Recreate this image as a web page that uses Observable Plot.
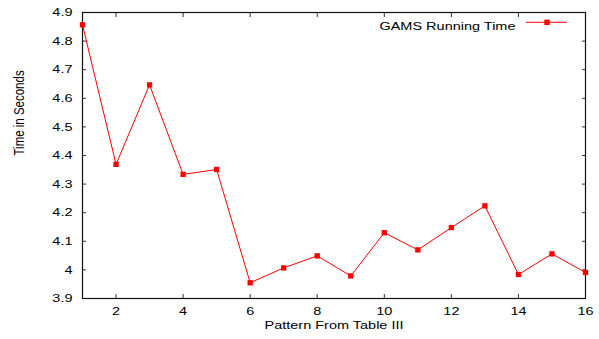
<!DOCTYPE html>
<html>
<head>
<meta charset="utf-8">
<script src="https://cdn.jsdelivr.net/npm/d3@7"></script>
<script src="https://cdn.jsdelivr.net/npm/@observablehq/plot@0.6"></script>
<style>
  html, body { margin: 0; padding: 0; background: #fff; }
  #chart { width: 599px; height: 339px; }
</style>
</head>
<body>
<div id="chart"></div>
<script>
const patterns = [1, 2, 3, 4, 5, 6, 7, 8, 9, 10, 11, 12, 13, 14, 15, 16];
const times = [4.857, 4.369, 4.647, 4.334, 4.351, 3.955, 4.007, 4.049, 3.979, 4.130, 4.070, 4.148, 4.224, 3.984, 4.056, 3.991];
const xTicks = [2, 4, 6, 8, 10, 12, 14, 16];
const yTicks = [3.9, 4, 4.1, 4.2, 4.3, 4.4, 4.5, 4.6, 4.7, 4.8, 4.9];
const seriesName = "GAMS Running Time";
const xLabel = "Pattern From Table III";
const yLabel = "Time in Seconds";

const data = patterns.map((p, i) => ({pattern: p, time: times[i]}));
const blank = () => "";
const plain = d => String(d);

const chart = Plot.plot({
  width: 599,
  height: 339,
  marginLeft: 82,
  marginRight: 14,
  marginTop: 12,
  marginBottom: 41,
  style: {fontFamily: "'Liberation Sans', Arial, sans-serif", fontSize: "11.5px", color: "#000", background: "#fff"},
  x: {domain: [1, 16]},
  y: {domain: [3.9, 4.9]},
  marks: [
    // inward ticks on all four sides
    Plot.axisX(xTicks, {anchor: "bottom", tickSize: -4, tickFormat: blank, label: null, stroke: "#333"}),
    Plot.axisX(xTicks, {anchor: "top", tickSize: -4, tickFormat: blank, label: null, stroke: "#333"}),
    Plot.axisY(yTicks, {anchor: "left", tickSize: -4, tickFormat: blank, label: null, stroke: "#333"}),
    Plot.axisY(yTicks, {anchor: "right", tickSize: -4, tickFormat: blank, label: null, stroke: "#333"}),
    // tick labels
    Plot.axisX(xTicks, {anchor: "bottom", tickSize: 0, tickPadding: 8.5, tickFormat: plain, label: null, fill: "#000"}),
    Plot.axisY(yTicks, {anchor: "left", tickSize: 0, tickPadding: 10, tickFormat: plain, label: null, fill: "#000"}),
    Plot.frame({stroke: "#111", strokeWidth: 1.2}),
    Plot.line(data, {x: "pattern", y: "time", stroke: "#ff0000", strokeWidth: 1}),
    Plot.dot(data, {x: "pattern", y: "time", symbol: "square", fill: "#ff0000", r: 3}),
    Plot.text([xLabel], {text: d => d, frameAnchor: "bottom", dy: 30, fill: "#000"}),
    Plot.text([yLabel], {text: d => d, frameAnchor: "left", dx: -63, rotate: -90, fill: "#000"}),
    Plot.text([seriesName], {text: d => d, frameAnchor: "top-right", textAnchor: "end", dx: -70, dy: 9.5, fill: "#000"})
  ]
});

document.getElementById("chart").appendChild(chart);

// stretch horizontal text slightly, as in the reference rendering
d3.select(chart).selectAll("text").each(function() {
  const t = this.getAttribute("transform") || "";
  if (t.includes("rotate")) this.setAttribute("transform", t + " scale(1,1.2)");
  else this.setAttribute("transform", t + " scale(1.26,1)");
});

// legend sample (line + marker)
const svg = d3.select(chart);
const lg = svg.append("g");
lg.append("line").attr("x1", 526).attr("x2", 567).attr("y1", 22.3).attr("y2", 22.3)
  .attr("stroke", "#ff0000").attr("stroke-width", 1);
lg.append("rect").attr("x", 544.3).attr("y", 19.6).attr("width", 5.4).attr("height", 5.4).attr("fill", "#ff0000");
</script>
</body>
</html>
